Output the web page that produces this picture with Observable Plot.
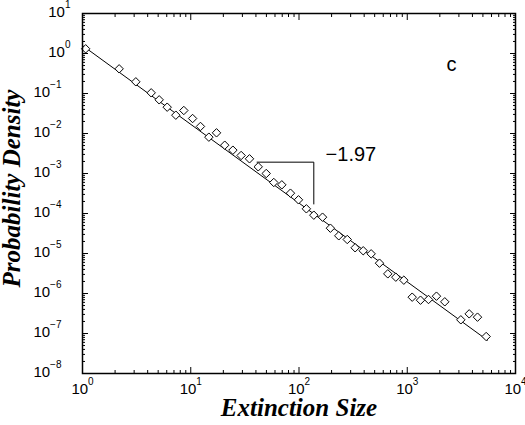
<!DOCTYPE html>
<html><head><meta charset="utf-8">
<script src="https://cdn.jsdelivr.net/npm/d3@7"></script>
<script src="https://cdn.jsdelivr.net/npm/@observablehq/plot@0.6"></script>
<style>body{margin:0;background:#fff}</style>
</head><body><div id="chart"></div>
<script>
// Data
const sizes = [1.07, 2.18, 3.11, 4.31, 5.11, 6.06, 7.28, 8.63, 10.4, 12.3, 14.7, 17.3, 20.6, 24.5, 29.2, 34.9, 42.0, 49.8, 58.5, 69.4, 83.4, 98.9, 117, 137, 165, 195, 233, 279, 330, 392, 464, 554, 661, 784, 930, 1111, 1326, 1571, 1862, 2222, 3126, 3735, 4457, 5358];
const density = [1.31, 0.414, 0.196, 0.104, 0.0695, 0.0455, 0.0287, 0.0376, 0.0237, 0.0150, 0.0081, 0.0104, 0.0051, 0.00383, 0.00282, 0.00233, 0.00147, 0.001, 0.000596, 0.000521, 0.000322, 0.00022, 0.000131, 9.08e-5, 8.09e-5, 4.29e-5, 2.77e-5, 2.24e-5, 1.39e-5, 1.17e-5, 9.82e-6, 5.73e-6, 3.1e-6, 2.56e-6, 2.15e-6, 8.09e-7, 6.8e-7, 7.08e-7, 8.57e-7, 6.2e-7, 2.2e-7, 3.1e-7, 2.56e-7, 8.4e-8];
const fitX = [1, 5500];
const fitY = [1.58, 6.8e-8];
const slopeX = [41, 137, 137];
const slopeY = [1.92e-3, 1.92e-3, 1.73e-4];
const slopeLabel = "−1.97";
const panelLabel = "c";
const xTitle = "Extinction Size";
const yTitle = "Probability Density";
const xTickValues = [1, 10, 100, 1000, 10000];
const xTickExp = ["0", "1", "2", "3", "4"];
const yTickValues = [10, 1, 0.1, 0.01, 1e-3, 1e-4, 1e-5, 1e-6, 1e-7, 1e-8];
const yTickExp = ["1", "0", "−1", "−2", "−3", "−4", "−5", "−6", "−7", "−8"];

const points = sizes.map((s, i) => ({s, p: density[i]}));
const fit = fitX.map((x, i) => ({x, y: fitY[i]}));
const tri = slopeX.map((x, i) => ({x, y: slopeY[i]}));

function minorTicks(majors) {
  const out = [];
  for (const m of majors) for (let k = 2; k <= 9; k++) out.push(m * k);
  return out;
}
const xMinor = minorTicks(xTickValues.slice(0, -1));
const yMinor = minorTicks(yTickValues.slice(1));

const xLab = xTickValues.map((v, i) => ({v, t: "10^" + xTickExp[i]}));
const yLab = yTickValues.map((v, i) => ({v, t: "10^" + yTickExp[i], neg: yTickExp[i].startsWith("−")}));

const tickOpts = {fill: "none", label: null, stroke: "black"};
const titleFont = {fontFamily: "'Liberation Serif', 'Times New Roman', serif", fontWeight: "bold", fontStyle: "italic", fontSize: 25};

const chart = Plot.plot({
  width: 525,
  height: 425,
  marginLeft: 82,
  marginRight: 10,
  marginTop: 13,
  marginBottom: 52,
  style: {fontFamily: "'Liberation Sans', Arial, sans-serif", background: "#fff"},
  x: {type: "log", domain: [1, 10000]},
  y: {type: "log", domain: [1e-8, 10]},
  marks: [
    Plot.axisX(xTickValues, {anchor: "bottom", tickSize: -6, ...tickOpts}),
    Plot.axisX(xMinor, {anchor: "bottom", tickSize: -3, ...tickOpts}),
    Plot.axisX(xTickValues, {anchor: "top", tickSize: -6, ...tickOpts}),
    Plot.axisX(xMinor, {anchor: "top", tickSize: -3, ...tickOpts}),
    Plot.axisY(yTickValues, {anchor: "left", tickSize: -6, ...tickOpts}),
    Plot.axisY(yMinor, {anchor: "left", tickSize: -3, ...tickOpts}),
    Plot.axisY(yTickValues, {anchor: "right", tickSize: -6, ...tickOpts}),
    Plot.axisY(yMinor, {anchor: "right", tickSize: -3, ...tickOpts}),
    Plot.text(xLab, {x: "v", text: "t", frameAnchor: "bottom", dy: 20.3, lineAnchor: "bottom", textAnchor: "middle", fontSize: 15}),
    Plot.text(yLab.filter(d => !d.neg), {y: "v", text: "t", frameAnchor: "left", dx: -12, dy: 3.7, lineAnchor: "bottom", textAnchor: "end", fontSize: 15}),
    Plot.text(yLab.filter(d => d.neg), {y: "v", text: "t", frameAnchor: "left", dx: -21, dy: 3.7, lineAnchor: "bottom", textAnchor: "end", fontSize: 15}),
    Plot.line(fit, {x: "x", y: "y", stroke: "black", strokeWidth: 1}),
    Plot.line(tri, {x: "x", y: "y", stroke: "black", strokeWidth: 1}),
    Plot.dot(points, {x: "s", y: "p", symbol: "diamond2", r: 3.8, stroke: "black", strokeWidth: 1, fill: "white"}),
    Plot.text([slopeLabel], {x: 176, y: 2.03e-3, text: d => d, textAnchor: "start", lineAnchor: "bottom", fontSize: 20}),
    Plot.text([panelLabel], {x: 2564, y: 0.361, text: d => d, textAnchor: "middle", lineAnchor: "bottom", fontSize: 20}),
    Plot.text([xTitle], {frameAnchor: "bottom", text: d => d, dy: 42, textAnchor: "middle", lineAnchor: "bottom", ...titleFont}),
    Plot.text([yTitle], {frameAnchor: "left", text: d => d, rotate: -90, dx: -63, dy: -5, textAnchor: "middle", lineAnchor: "bottom", ...titleFont}),
    Plot.frame({stroke: "black", strokeWidth: 1.5})
  ]
});

// superscript exponents on tick labels
chart.querySelectorAll("text").forEach(t => {
  const s = t.textContent;
  if (!s.includes("^")) return;
  const [base, exp] = s.split("^");
  t.textContent = base;
  const ts = document.createElementNS("http://www.w3.org/2000/svg", "tspan");
  ts.setAttribute("font-size", "10");
  ts.setAttribute("dy", "-9");
  ts.textContent = exp;
  t.appendChild(ts);
});

document.getElementById("chart").appendChild(chart);
</script>
</body></html>
